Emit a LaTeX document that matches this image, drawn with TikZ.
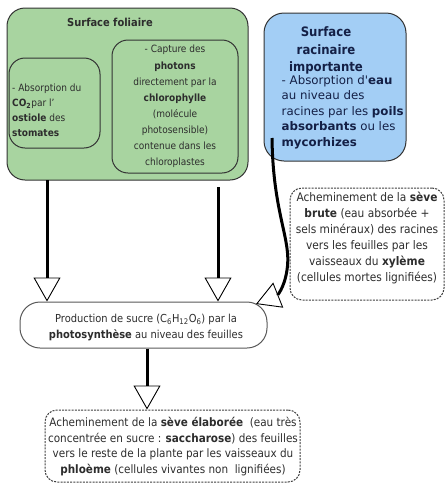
\documentclass[tikz,border=0pt]{standalone}
\usepackage{fontspec}
\setmainfont{DejaVu Sans Condensed}
\newfontfamily\widefont{DejaVu Sans}
\usetikzlibrary{arrows.meta}
\definecolor{leafgreen}{RGB}{168,212,160}
\definecolor{rootblue}{RGB}{163,206,245}
\definecolor{txtgray}{RGB}{45,45,45}
\definecolor{txtnavy}{RGB}{20,32,70}
\begin{document}
\begin{tikzpicture}[x=1pt,y=-1pt,
  box/.style={draw=black!80, line width=1pt, inner sep=0pt},
  greenbox/.style={box, fill=leafgreen, rounded corners=18pt},
  innerbox/.style={box, fill=leafgreen, rounded corners=16pt},
  bluebox/.style={box, fill=rootblue, rounded corners=20pt},
  dashbox/.style={draw=black!75, line width=1pt, dash pattern=on 2pt off 1.2pt, fill=white, rounded corners=12pt, inner sep=0pt},
  prodbox/.style={draw=black!65, line width=1pt, fill=white, rounded corners=20pt, inner sep=0pt},
  txt/.style={inner sep=0pt, text=txtgray, font=\fontsize{10}{15.5}\selectfont},
  flow/.style={line width=3pt, black, -{Triangle[open, length=24pt, width=27pt, line width=0.9pt]}},
]
\useasboundingbox (0,0) rectangle (446,485);

% boxes
\node[greenbox, minimum width=241pt, minimum height=172pt] (foliar) at (127.5,94) {};
\node[innerbox, minimum width=91pt, minimum height=90pt] (leftbox) at (54.5,103) {};
\node[innerbox, minimum width=126pt, minimum height=133pt] (rightbox) at (175,106.5) {};
\node[bluebox, minimum width=142pt, minimum height=148pt] (root) at (335,87) {};
\node[dashbox, minimum width=154pt, minimum height=112pt] (xylem) at (367,244) {};
\node[prodbox, minimum width=247pt, minimum height=46pt] (prod) at (143.5,325) {};
\node[dashbox, minimum width=255pt, minimum height=72pt] (phloem) at (172.5,446) {};

% texts
\node[txt, font=\fontsize{11}{15.5}\selectfont\bfseries] (foltitle) at (110,22) {Surface foliaire};
\node[txt, anchor=west, align=left, font=\fontsize{10}{15}\selectfont] (lefttxt) at (12,110.5)
  {- Absorption du\\\textbf{CO\textsubscript{2}}par l'\\\textbf{ostiole} des\\\textbf{stomates}};
\node[txt, align=center, font=\fontsize{10}{16.1}\selectfont] (righttxt) at (175,106.5)
  {- Capture des\\\textbf{photons}\\directement par la\\\textbf{chlorophylle}\\(molécule\\photosensible)\\contenue dans les\\chloroplastes};
\node[txt, text=txtnavy, align=center, font=\fontsize{13}{17.5}\selectfont\bfseries] (roottitle) at (326,50.5)
  {Surface\\racinaire\\importante};
\node[txt, text=txtnavy, anchor=west, align=left, font=\widefont\fontsize{11.8}{15.5}\selectfont] (roottxt) at (281.5,112)
  {- Absorption d'\textbf{eau}\\au niveau des\\racines par les \textbf{poils}\\\textbf{absorbants} ou les\\\textbf{mycorhizes}};
\node[txt, align=center, font=\fontsize{11.8}{16}\selectfont] (xylemtxt) at (367,238)
  {Acheminement de la \textbf{sève}\\\textbf{brute} (eau absorbée +\\sels minéraux) des racines\\vers les feuilles par les\\vaisseaux du \textbf{xylème}\\(cellules mortes lignifiées)};
\node[txt, align=center, font=\fontsize{11}{15.5}\selectfont] (prodtxt) at (146,327.5)
  {Production de sucre (C\textsubscript{6}H\textsubscript{12}O\textsubscript{6}) par la\\\textbf{photosynthèse} au niveau des feuilles};
\node[txt, align=center, font=\fontsize{11.6}{15.7}\selectfont] (phloemtxt) at (173,446.5)
  {Acheminement de la \textbf{sève élaborée}~ (eau très\\concentrée en sucre : \textbf{saccharose}) des feuilles\\vers le reste de la plante par les vaisseaux du\\\textbf{phloème} (cellules vivantes non~ lignifiées)};

% connectors
\coordinate (s1) at (47,180);
\coordinate (s2) at (218,187);
\coordinate (s3) at (272,138);
\coordinate (t3) at (256,304);
\draw[flow] (s1) -- (s1 |- prod.north);
\draw[flow] (s2) -- (s2 |- prod.north);
\draw[flow] (s3) .. controls (273,215) and (292,240) .. (287,270) .. controls (284,290) and (276,296) .. (t3);
\draw[flow] ([xshift=3.5pt]prod.south) -- ([xshift=3.5pt]prod.south |- phloem.north);
\end{tikzpicture}
\end{document}
